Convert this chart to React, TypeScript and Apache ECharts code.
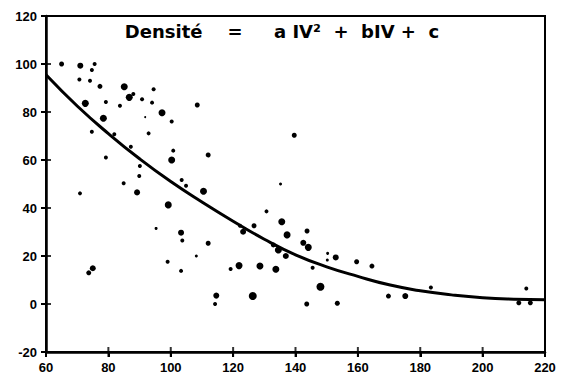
import React, { useEffect, useRef } from "react";
import * as echarts from "echarts";

const xTicks = [60, 80, 100, 120, 140, 160, 180, 200, 220];
const yTicks = [-20, 0, 20, 40, 60, 80, 100, 120];

const pointX = [
  65, 71, 75.6, 74.7, 70.7, 74.1, 77.3, 85.1, 94.5, 86.7, 88, 90.8, 94, 72.6, 79.2, 83.7, 97.2, 91.8, 78.4, 100.3,
  74.7, 81.9, 92.9, 87.2, 100.8, 79.2, 100.3, 108.5, 139.6, 112, 70.9, 84.9, 89.9, 90.1, 89.2, 99.2, 95.3, 99, 75, 73.7,
  103.5, 104.9, 110.5, 135.2, 130.7, 135.6, 126.7, 122.2, 123.2, 137.3, 103.3, 103.7, 112, 108.2, 132.9, 134.5, 136.9, 121.9, 119.2, 128.6,
  133.7, 103.3, 114.6, 114.2, 126.3, 143.7, 142.5, 144.1, 145.5, 150.3, 150.2, 152.9, 159.6, 164.5, 148, 143.6, 153.4, 169.8, 175.2, 183.4,
  214, 211.6, 215.3,
];
const pointY = [
  100, 99.3, 100, 97.5, 93.5, 93, 90.7, 90.5, 89.5, 86.1, 87.5, 85.3, 83.9, 83.6, 84.2, 82.6, 79.7, 77.9, 77.4, 76,
  71.8, 70.7, 71.1, 65.5, 63.9, 61, 60, 82.9, 70.3, 62.1, 46.1, 50.3, 53.3, 57.5, 46.5, 41.3, 31.5, 17.6, 14.9, 13,
  51.7, 49.3, 47, 50, 38.6, 34.3, 32.6, 32.6, 30.1, 28.8, 29.7, 26.5, 25.3, 20, 24.6, 22.5, 20, 16, 14.6, 15.8,
  14.5, 13.8, 3.5, 0, 3.3, 30.4, 25.5, 23.6, 15.1, 21.1, 18.3, 19.4, 17.6, 15.8, 7.2, 0, 0.3, 3.3, 3.3, 6.9,
  6.5, 0.5, 0.5,
];
const pointSize = [
  5, 6, 4, 4, 4, 4, 5, 7, 4, 7, 4, 4, 4, 7, 4, 4, 7, 2, 7, 4,
  4, 4, 4, 4, 4, 4, 7, 5, 5, 5, 4, 4, 4, 4, 6, 7, 3, 4, 6, 5,
  4, 4, 7, 3, 4, 7, 5, 4, 6, 7, 6, 4, 5, 3, 5, 7, 6, 7, 4, 7,
  7, 4, 6, 4, 8, 5, 6, 7, 4, 3, 3, 6, 5, 5, 8, 5, 5, 5, 6, 4,
  4, 5, 5,
];

const curveX = [60, 70, 80, 90, 100, 110, 120, 130, 140, 150, 160, 170, 180, 190, 200, 210, 220];
const curveY = [95.5, 82.5, 71, 60.5, 51, 42.5, 34.5, 27, 20.5, 15.5, 11.5, 8, 5.5, 3.8, 2.6, 2, 1.8];

const titleText = "Densité    =     a IV²  +  bIV +  c";

export default function App() {
  const ref = useRef<HTMLDivElement>(null);
  useEffect(() => {
    if (!ref.current) return;
    const chart = echarts.init(ref.current, undefined, { renderer: "svg" });
    const xMin = xTicks[0];
    const xMax = xTicks[xTicks.length - 1];
    const yMin = yTicks[0];
    const yMax = yTicks[yTicks.length - 1];
    chart.setOption({
      animation: false,
      graphic: [
        {
          type: "text",
          left: "center",
          top: 22,
          style: {
            text: titleText,
            fill: "#000",
            fontSize: 18,
            fontWeight: "bold",
            fontFamily: "DejaVu Sans",
          },
        },
      ],
      grid: { left: 46, right: 19, top: 16, bottom: 25, show: true, borderColor: "#000", borderWidth: 2 },
      xAxis: {
        type: "value",
        min: xMin,
        max: xMax,
        interval: 20,
        splitLine: { show: false },
        axisLine: { show: true, onZero: false, lineStyle: { color: "#000", width: 2.5 } },
        axisTick: { show: true, length: 5, lineStyle: { color: "#000", width: 2 } },
        axisLabel: { color: "#000", fontWeight: "bold", fontSize: 13, margin: 9 },
      },
      yAxis: {
        type: "value",
        min: yMin,
        max: yMax,
        interval: 20,
        splitLine: { show: false },
        axisLine: { show: true, onZero: false, lineStyle: { color: "#000", width: 2.5 } },
        axisTick: { show: true, length: 5, lineStyle: { color: "#000", width: 2 } },
        axisLabel: { color: "#000", fontWeight: "bold", fontSize: 13, margin: 9 },
      },
      series: [
        {
          type: "line",
          data: [
            [xMin, yMax],
            [xMax, yMax],
            [xMax, yMin],
          ],
          symbol: "none",
          lineStyle: { color: "#000", width: 2 },
        },
        {
          type: "scatter",
          data: xTicks.map((t) => [t, yMin]),
          symbol: "rect",
          symbolSize: [2, 10],
          itemStyle: { color: "#000" },
        },
        {
          type: "scatter",
          data: yTicks.map((t) => [xMin, t]),
          symbol: "rect",
          symbolSize: [10, 2],
          itemStyle: { color: "#000" },
        },
        {
          type: "scatter",
          data: pointX.map((x, i) => [x, pointY[i], pointSize[i]]),
          symbol: "circle",
          symbolSize: (v: number[]) => v[2],
          itemStyle: { color: "#000", opacity: 1 },
        },
        {
          type: "line",
          data: curveX.map((x, i) => [x, curveY[i]]),
          smooth: true,
          symbol: "none",
          lineStyle: { color: "#000", width: 3 },
        },
      ],
    });
    return () => chart.dispose();
  }, []);
  return <div ref={ref} style={{ width: 564, height: 377, position: "absolute", left: 0, top: 0, background: "#fff" }} />;
}
